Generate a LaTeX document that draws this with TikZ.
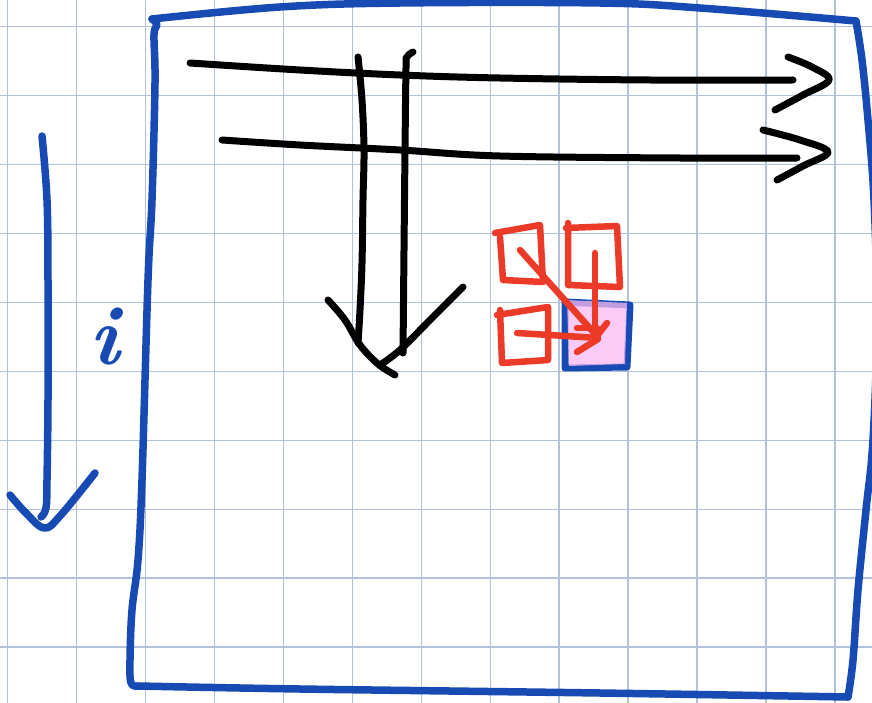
\documentclass[tikz,border=0pt]{standalone}
\usepackage{tikz}
\definecolor{gridc}{RGB}{178,194,220}
\definecolor{penblue}{RGB}{24,74,180}
\definecolor{penred}{RGB}{236,58,40}
\definecolor{penpink}{RGB}{250,185,242}
\tikzset{
  gridline/.style={draw=gridc, line width=1.3pt},
  bluepen/.style={draw=penblue, line width=7.5pt, line cap=round, line join=round},
  blackpen/.style={draw=black, line width=7pt, line cap=round, line join=round},
  redpen/.style={draw=penred, line width=6.5pt, line cap=round, line join=round},
}
\begin{document}
\begin{tikzpicture}[x=1pt,y=-1pt]
\useasboundingbox (0,0) rectangle (872,703);
\clip (0,0) rectangle (872,703);
\fill[white] (0,0) rectangle (872,703);
% grid
\foreach \k in {0,...,12} { \draw[gridline] ({7.5+68.95*\k},0) -- ({7.5+68.95*\k},703); }
\foreach \k in {0,...,9} { \draw[gridline] (0,{26.5+68.95*\k}) -- (872,{26.5+68.95*\k}); }

% big blue frame
\draw[bluepen] plot[smooth, tension=0.6] coordinates {(152,19) (280,7) (400,3) (600,3) (700,8) (856,21)};
\draw[bluepen] plot[smooth, tension=0.6] coordinates {(856,21) (862,60) (868,120) (874,200) (877,320) (873,440) (866,510) (858,590) (853,660) (848,697)};
\draw[bluepen] plot[smooth, tension=0.6] coordinates {(848,697) (600,693) (300,689) (138,686)};
\draw[bluepen] plot[smooth, tension=0.6] coordinates {(138,686) (131,683) (130,660) (132,610) (138,560) (142,480) (148,280) (152,200) (155,83) (154,35) (157,25) (152,19)};

% left blue arrow
\draw[bluepen] plot[smooth, tension=0.6] coordinates {(42,136) (47,200) (48,280) (48,400) (47,480) (46,508) (41,517)};
\draw[bluepen] plot[smooth, tension=0.6] coordinates {(10,495) (25,512) (44,528) (60,516) (95,473)};
\node[text=penblue, font=\fontsize{84}{84}\selectfont\bfseries\itshape, inner sep=0pt, anchor=base] (ilabel) at (104,364) {i};

% black horizontal arrows
\draw[blackpen] plot[smooth, tension=0.6] coordinates {(190,63) (300,70) (400,75) (500,78) (650,80) (793,80)};
\draw[blackpen] plot[smooth, tension=0.6] coordinates {(788,57) (812,67) (829,80) (803,95) (775,110)};
\draw[blackpen] plot[smooth, tension=0.6] coordinates {(222,140) (300,145) (400,150) (500,156) (680,158) (797,158)};
\draw[blackpen] plot[smooth, tension=0.6] coordinates {(763,130) (800,140) (828,152) (803,166) (777,180)};

% black vertical arrows
\draw[blackpen] plot[smooth, tension=0.6] coordinates {(358,57) (362,100) (364,150) (363,200) (362,263) (360,310) (358,343)};
\draw[blackpen] plot[smooth, tension=0.6] coordinates {(413,52) (407,57) (406,68) (405,150) (404,250) (403,353)};
\draw[blackpen] plot[smooth, tension=0.6] coordinates {(328,300) (345,320) (360,345) (378,364) (395,375)};
\draw[blackpen] plot[smooth, tension=0.6] coordinates {(463,287) (430,320) (400,350) (380,365)};

% red squares
\draw[redpen] (495,233) -- (540,225) -- (543,282) -- (503,280) -- (500,237);
\draw[redpen] (568,223) -- (568,285) -- (620,287) -- (617,226) -- (566,228);
\draw[redpen] (497,315) -- (548,307) -- (548,360) -- (502,363) -- (500,310);

% target square
\draw[bluepen, line width=7pt] (565,302) -- (630,305) -- (627,367) -- (565,368) -- cycle;
\fill[penpink, opacity=0.75] (567,300) -- (627,303) -- (625,364) -- (569,366) -- cycle;

% red arrows
\draw[redpen] (520,250) -- (595,334);
\draw[redpen] (577,328) -- (597,328);
\draw[redpen] (595,253) -- (595,336);
\draw[redpen] (607,323) -- (596,337);
\draw[redpen] (517,333) -- (598,338);
\draw[redpen] (577,352) -- (598,339);
\end{tikzpicture}
\end{document}
